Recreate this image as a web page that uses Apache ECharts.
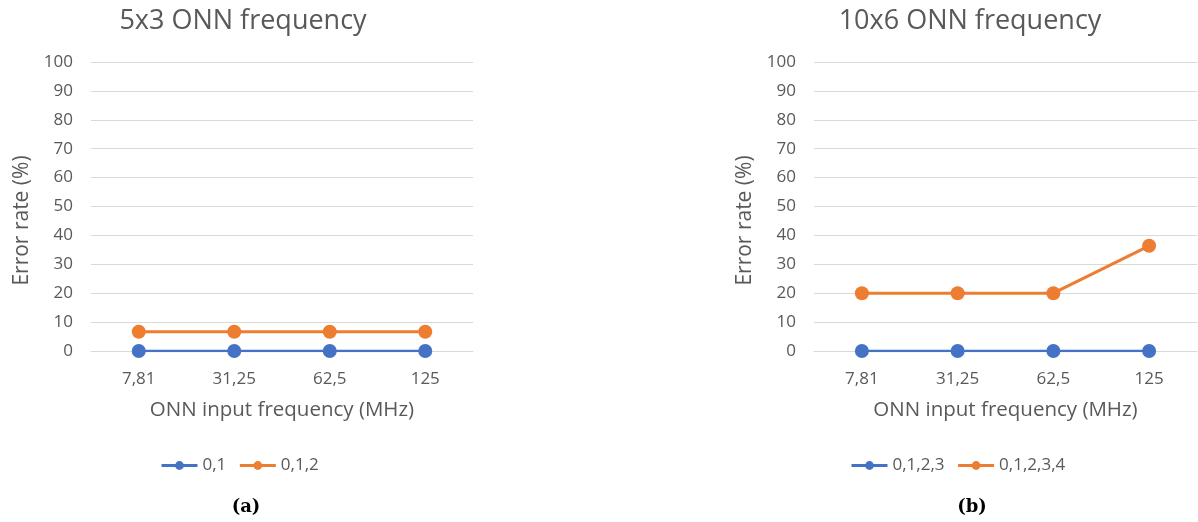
<!DOCTYPE html>
<html>
<head>
<meta charset="utf-8">
<script src="https://cdn.jsdelivr.net/npm/echarts@6/dist/echarts.min.js"></script>
<style>
  html, body { margin: 0; padding: 0; background: #fff; }
  #main { width: 1198px; height: 522px; }
</style>
</head>
<body>
<div id="main"></div>
<script>
// categories (MHz)
const freqs = ['7,81', '31,25', '62,5', '125']

// (a) 5x3 ONN
const errA01 = [0, 0, 0, 0]
const errA012 = [6.67, 6.67, 6.67, 6.67]

// (b) 10x6 ONN
const errB0123 = [0, 0, 0, 0]
const errB01234 = [20, 20, 20, 36.4]

const BLUE = '#4472C4'
const ORANGE = '#ED7D31'
const TXT = '#595959'
const FONT = 'Open Sans'

const makeX = gridIndex => ({
    type: 'category',
    gridIndex,
    data: freqs,
    boundaryGap: true,
    axisLine: { show: true, lineStyle: { color: '#d9d9d9', width: 1 } },
    axisTick: { show: false },
    axisLabel: { color: TXT, fontSize: 17, fontFamily: FONT, margin: 20 },
    name: 'ONN input frequency (MHz)',
    nameLocation: 'middle',
    nameGap: 49,
    nameTextStyle: { color: TXT, fontSize: 20.5, fontFamily: FONT }
})

const makeY = gridIndex => ({
    type: 'value',
    gridIndex,
    min: 0,
    max: 100,
    interval: 10,
    axisLine: { show: false },
    axisTick: { show: false },
    splitLine: { lineStyle: { color: '#d9d9d9', width: 1 } },
    axisLabel: { color: TXT, fontSize: 17, fontFamily: FONT, margin: 18 },
    name: 'Error rate (%)',
    nameLocation: 'middle',
    nameGap: 58,
    nameTextStyle: { color: TXT, fontSize: 21, fontFamily: FONT, padding: [0, 28, 0, 0] }
})

const makeLine = (name, data, color, xi, lw) => ({
    name,
    type: 'line',
    xAxisIndex: xi,
    yAxisIndex: xi,
    data,
    symbol: 'circle',
    symbolSize: 14,
    lineStyle: { color, width: lw },
    itemStyle: { color },
    animation: false
})

const legendBase = {
    itemWidth: 36,
    itemHeight: 11,
    itemGap: 12,
    lineStyle: { width: 3 },
    textStyle: { color: TXT, fontSize: 17, fontFamily: FONT }
}

const option = {
    animation: false,
    title: [
        { text: '5x3 ONN frequency', left: 238, top: 3, textAlign: 'center',
          textStyle: { color: TXT, fontSize: 27, fontWeight: 'normal', fontFamily: FONT } },
        { text: '10x6 ONN frequency', left: 965, top: 3, textAlign: 'center',
          textStyle: { color: TXT, fontSize: 27, fontWeight: 'normal', fontFamily: FONT } },
        { text: '(a)', left: 241, top: 493, textAlign: 'center',
          textStyle: { color: '#000', fontSize: 18, fontWeight: 'bold', fontFamily: 'DejaVu Serif' } },
        { text: '(b)', left: 967, top: 493, textAlign: 'center',
          textStyle: { color: '#000', fontSize: 18, fontWeight: 'bold', fontFamily: 'DejaVu Serif' } }
    ],
    legend: [
        Object.assign({ left: 155, top: 452, data: ['0,1', '0,1,2'] }, legendBase),
        Object.assign({ left: 845, top: 452, data: ['0,1,2,3', '0,1,2,3,4'] }, legendBase)
    ],
    grid: [
        { left: 91, right: 725, top: 62, bottom: 171 },
        { left: 814, right: 1, top: 62, bottom: 171 }
    ],
    xAxis: [makeX(0), makeX(1)],
    yAxis: [makeY(0), makeY(1)],
    series: [
        makeLine('0,1', errA01, BLUE, 0, 2.5),
        makeLine('0,1,2', errA012, ORANGE, 0, 3),
        makeLine('0,1,2,3', errB0123, BLUE, 1, 2.5),
        makeLine('0,1,2,3,4', errB01234, ORANGE, 1, 3)
    ]
}

const chart = echarts.init(document.getElementById('main'))
chart.setOption(option)
</script>
</body>
</html>
